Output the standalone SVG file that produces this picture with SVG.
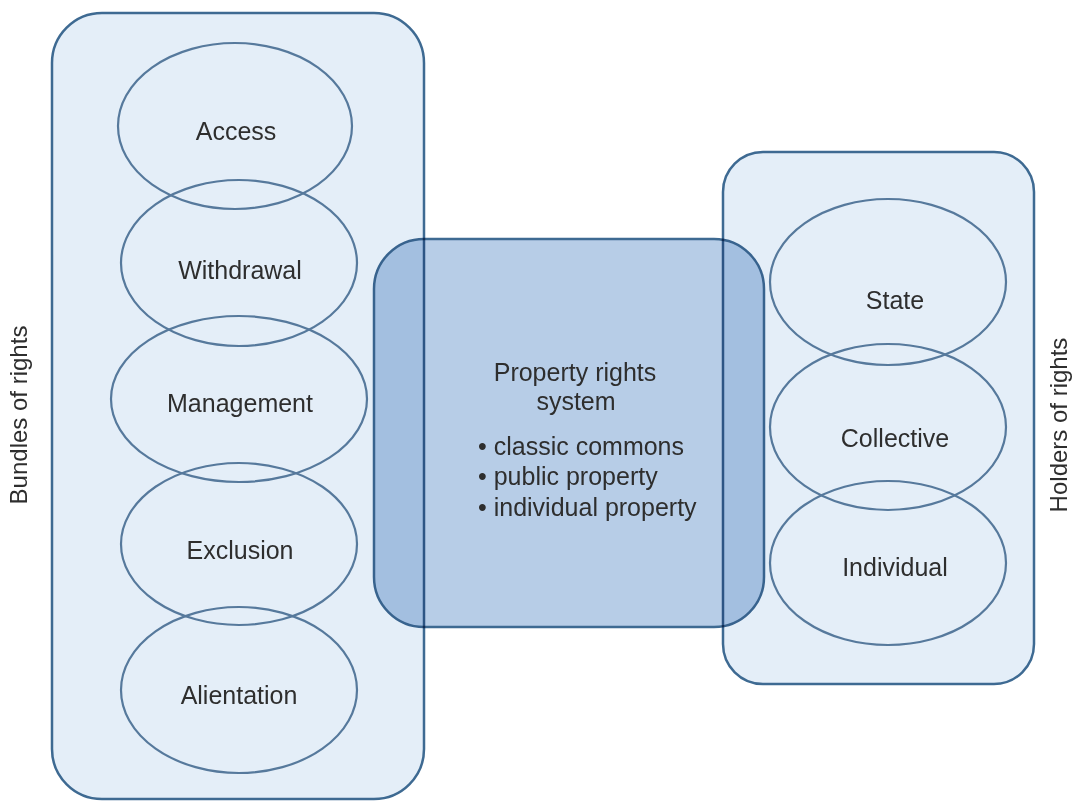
<svg xmlns="http://www.w3.org/2000/svg" width="1073" height="802" viewBox="0 0 1073 802">
  <style>
    .box { fill: #e4eef8; stroke: #3e6a92; stroke-width: 2.5; }
    .center { fill: #b7cde7; stroke: #3e6a92; stroke-width: 2.5; mix-blend-mode: multiply; }
    .ell { fill: none; stroke: #56799c; stroke-width: 2.2; }
    .lbl { font-family: "Liberation Sans", Arial, sans-serif; font-size: 25px; fill: #2e2e2e; text-anchor: middle; }
    .side { font-family: "Liberation Sans", Arial, sans-serif; font-size: 24px; fill: #2e2e2e; text-anchor: middle; }
    .bul { font-family: "Liberation Sans", Arial, sans-serif; font-size: 25px; fill: #2e2e2e; text-anchor: start; }
  </style>
  <rect width="1073" height="802" fill="#ffffff"/>

  <g id="bundles-of-rights">
    <rect class="box" x="52" y="13" width="372" height="786" rx="50" ry="50"/>
    <text class="side" transform="translate(27,415) rotate(-90)">Bundles of rights</text>
  </g>

  <g id="holders-of-rights">
    <rect class="box" x="723" y="152" width="311" height="532" rx="40" ry="40"/>
    <text class="side" transform="translate(1067,425) rotate(-90)">Holders of rights</text>
  </g>

  <g id="access">
    <ellipse class="ell" cx="235" cy="126" rx="117" ry="83"/>
    <text class="lbl" x="236" y="140">Access</text>
  </g>
  <g id="withdrawal">
    <ellipse class="ell" cx="239" cy="263" rx="118" ry="83"/>
    <text class="lbl" x="240" y="279">Withdrawal</text>
  </g>
  <g id="management">
    <ellipse class="ell" cx="239" cy="399" rx="128" ry="83"/>
    <text class="lbl" x="240" y="412">Management</text>
  </g>
  <g id="exclusion">
    <ellipse class="ell" cx="239" cy="544" rx="118" ry="81"/>
    <text class="lbl" x="240" y="559">Exclusion</text>
  </g>
  <g id="alientation">
    <ellipse class="ell" cx="239" cy="690" rx="118" ry="83"/>
    <text class="lbl" x="239" y="704">Alientation</text>
  </g>

  <g id="state">
    <ellipse class="ell" cx="888" cy="282" rx="118" ry="83"/>
    <text class="lbl" x="895" y="309">State</text>
  </g>
  <g id="collective">
    <ellipse class="ell" cx="888" cy="427" rx="118" ry="83"/>
    <text class="lbl" x="895" y="447">Collective</text>
  </g>
  <g id="individual">
    <ellipse class="ell" cx="888" cy="563" rx="118" ry="82"/>
    <text class="lbl" x="895" y="576">Individual</text>
  </g>

  <g id="property-rights-system">
    <rect class="center" x="374" y="239" width="390" height="388" rx="50" ry="50"/>
    <text class="lbl" x="575" y="381">Property rights</text>
    <text class="lbl" x="576" y="410">system</text>
    <text class="bul" x="478" y="455">• classic commons</text>
    <text class="bul" x="478" y="485">• public property</text>
    <text class="bul" x="478" y="516">• individual property</text>
  </g>

  <g id="connectors"></g>
</svg>
